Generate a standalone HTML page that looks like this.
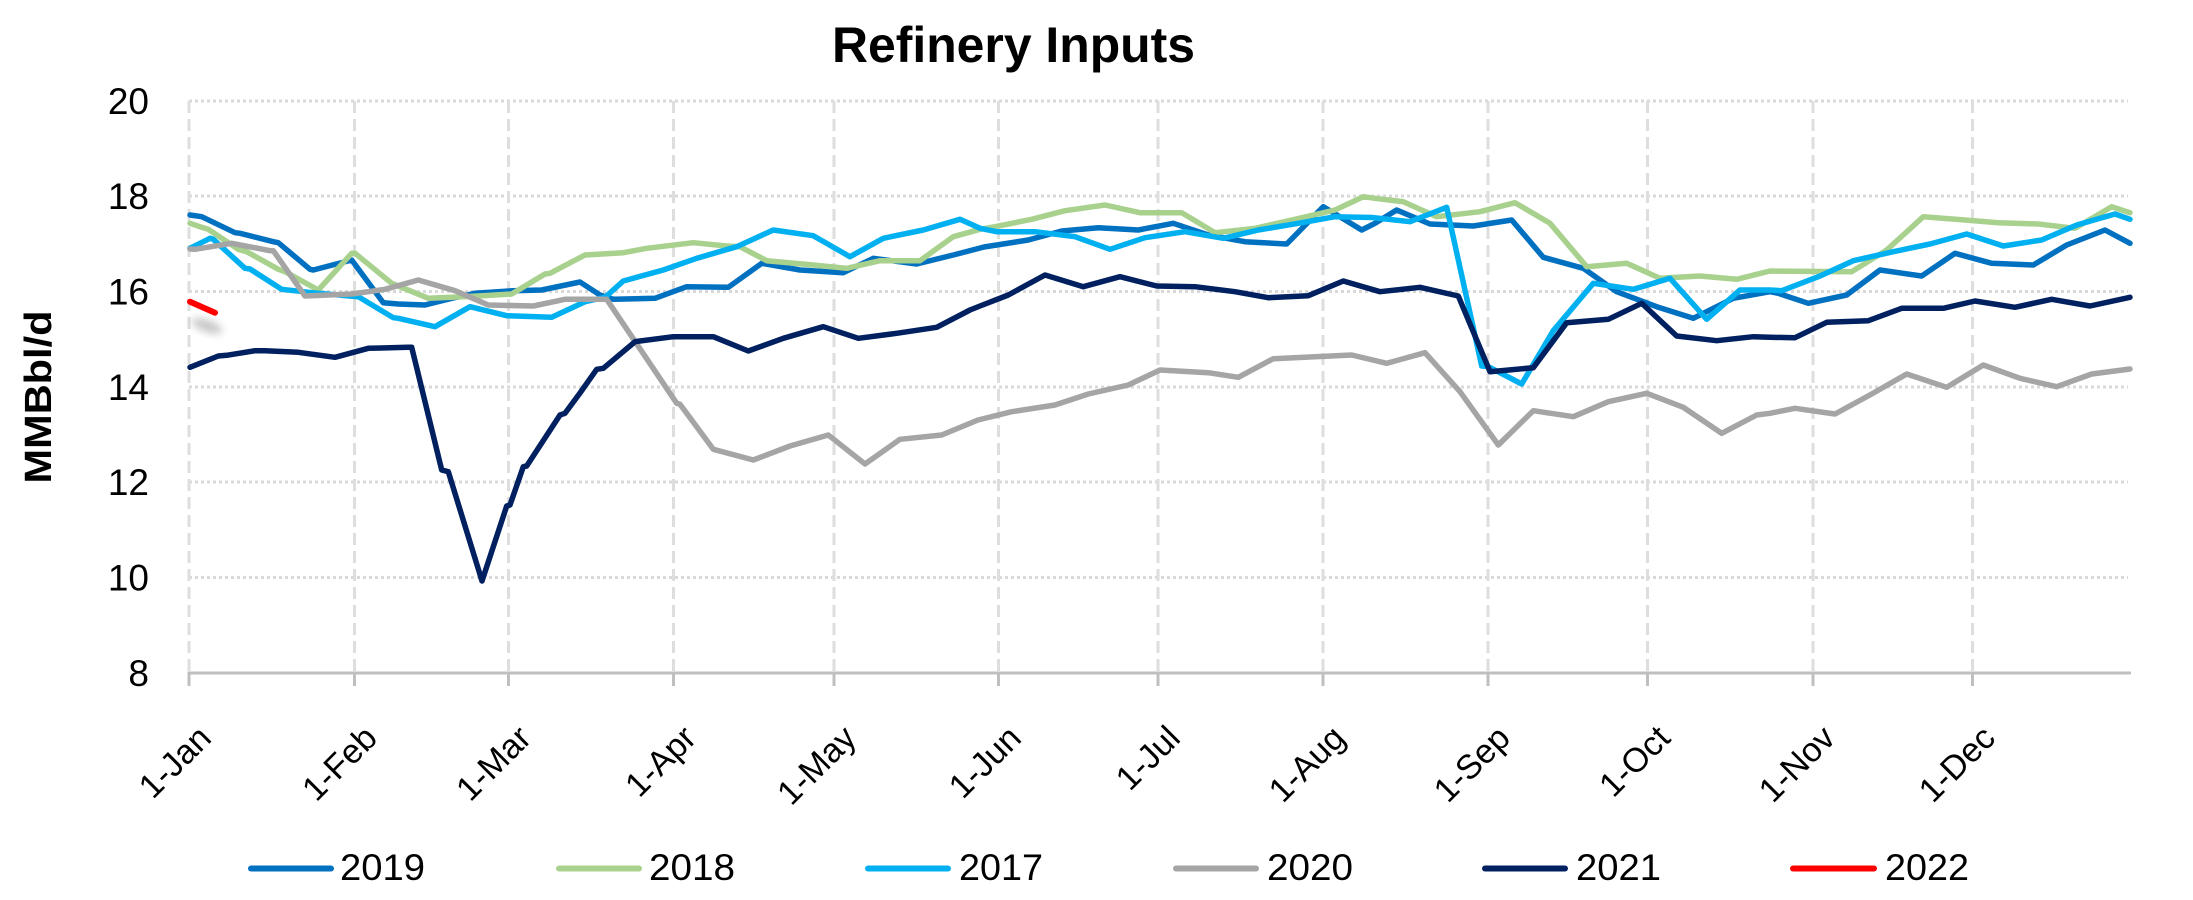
<!DOCTYPE html>
<html>
<head>
<meta charset="utf-8">
<style>
  html, body { margin:0; padding:0; background:#fff; }
  svg { display:block; }
  text { font-family: "Liberation Sans", "DejaVu Sans", sans-serif; fill:#000; }
</style>
</head>
<body>
<svg width="2193" height="900" viewBox="0 0 2193 900" xmlns="http://www.w3.org/2000/svg">
  <defs>
    <filter id="blur" x="-50%" y="-50%" width="200%" height="200%">
      <feGaussianBlur stdDeviation="4"/>
    </filter>
  </defs>
  <rect width="2193" height="900" fill="#fff"/>

  <!-- Title -->
  <text x="832" y="62" font-size="50" font-weight="bold" textLength="363" lengthAdjust="spacingAndGlyphs">Refinery Inputs</text>

  <!-- Horizontal dotted gridlines -->
  <g stroke="#D9D9D9" stroke-width="3" stroke-dasharray="3,3" fill="none">
    <line x1="189" y1="101" x2="2128" y2="101"/>
    <line x1="189" y1="196" x2="2128" y2="196"/>
    <line x1="189" y1="291.5" x2="2128" y2="291.5"/>
    <line x1="189" y1="387" x2="2128" y2="387"/>
    <line x1="189" y1="482" x2="2128" y2="482"/>
    <line x1="189" y1="577.5" x2="2128" y2="577.5"/>
  </g>

  <!-- Vertical dashed gridlines -->
  <g stroke="#DEDEDE" stroke-width="3" stroke-dasharray="12,6" fill="none">
    <line x1="189" y1="101" x2="189" y2="672"/>
    <line x1="354.5" y1="101" x2="354.5" y2="672"/>
    <line x1="508.5" y1="101" x2="508.5" y2="672"/>
    <line x1="673.5" y1="101" x2="673.5" y2="672"/>
    <line x1="834" y1="101" x2="834" y2="672"/>
    <line x1="998.5" y1="101" x2="998.5" y2="672"/>
    <line x1="1158" y1="101" x2="1158" y2="672"/>
    <line x1="1323" y1="101" x2="1323" y2="672"/>
    <line x1="1488" y1="101" x2="1488" y2="672"/>
    <line x1="1647.5" y1="101" x2="1647.5" y2="672"/>
    <line x1="1813" y1="101" x2="1813" y2="672"/>
    <line x1="1972.5" y1="101" x2="1972.5" y2="672"/>
  </g>

  <!-- X axis line and ticks -->
  <g stroke="#BFBFBF" stroke-width="3" fill="none">
    <line x1="187.5" y1="673" x2="2131" y2="673"/>
    <line x1="189" y1="673" x2="189" y2="686"/>
    <line x1="354.5" y1="673" x2="354.5" y2="686"/>
    <line x1="508.5" y1="673" x2="508.5" y2="686"/>
    <line x1="673.5" y1="673" x2="673.5" y2="686"/>
    <line x1="834" y1="673" x2="834" y2="686"/>
    <line x1="998.5" y1="673" x2="998.5" y2="686"/>
    <line x1="1158" y1="673" x2="1158" y2="686"/>
    <line x1="1323" y1="673" x2="1323" y2="686"/>
    <line x1="1488" y1="673" x2="1488" y2="686"/>
    <line x1="1647.5" y1="673" x2="1647.5" y2="686"/>
    <line x1="1813" y1="673" x2="1813" y2="686"/>
    <line x1="1972.5" y1="673" x2="1972.5" y2="686"/>
  </g>

  <!-- Y tick labels -->
  <g font-size="37" text-anchor="end">
    <text x="149" y="114">20</text>
    <text x="149" y="209">18</text>
    <text x="149" y="304.5">16</text>
    <text x="149" y="400">14</text>
    <text x="149" y="495">12</text>
    <text x="149" y="590.5">10</text>
    <text x="149" y="686">8</text>
  </g>

  <!-- Y axis title -->
  <text transform="translate(51,397) rotate(-90)" font-size="38" font-weight="bold" text-anchor="middle" textLength="173" lengthAdjust="spacingAndGlyphs">MMBbl/d</text>

  <!-- X tick labels -->
  <g font-size="34" text-anchor="end">
    <text transform="translate(213,740) rotate(-45)">1-Jan</text>
    <text transform="translate(379,740) rotate(-45)">1-Feb</text>
    <text transform="translate(533,740) rotate(-45)">1-Mar</text>
    <text transform="translate(698,740) rotate(-45)">1-Apr</text>
    <text transform="translate(858,740) rotate(-45)">1-May</text>
    <text transform="translate(1023,740) rotate(-45)">1-Jun</text>
    <text transform="translate(1182,740) rotate(-45)">1-Jul</text>
    <text transform="translate(1347,740) rotate(-45)">1-Aug</text>
    <text transform="translate(1512,740) rotate(-45)">1-Sep</text>
    <text transform="translate(1672,740) rotate(-45)">1-Oct</text>
    <text transform="translate(1837,740) rotate(-45)">1-Nov</text>
    <text transform="translate(1997,740) rotate(-45)">1-Dec</text>
  </g>

  <!-- Series -->
  <g fill="none" stroke-width="5.5" stroke-linejoin="round" stroke-linecap="round">
    <!-- 2019 -->
    <polyline stroke="#0070C0" points="190,215 201.7,216.7 235,232.7 240,233.3 273.3,241.7 278.3,242.7 310,269.3 313.3,270 351.7,260 383.3,302.7 398.3,304 425,305 451.7,298.3 475,293.3 513.3,290.7 541.7,290 580,282 600,295 613.3,299.3 655,298.3 686.7,286.7 728.3,287.3 761.7,263.3 800,270 843.3,272.7 873.3,258.3 916.7,264 953.3,255 984,247 1028.3,240 1061.7,231 1098.3,227.7 1138.3,230 1173.3,223.3 1208.3,235 1245,241.7 1286.7,244 1323.3,206.7 1361.7,230 1375,223.3 1396.7,210 1430,224 1473.3,226 1511.7,220 1543.3,257.3 1583.3,268.3 1616.7,291.7 1656.7,306.7 1693.3,318.3 1733.3,298.3 1770,291.7 1778.3,293.3 1808.3,303.3 1846.7,295 1880,270 1921.7,276 1955,253.3 1991.7,263.3 2033.3,265 2066.7,245 2105,230 2130,243.3"/>
    <!-- 2018 -->
    <polyline stroke="#A9D18E" points="190,223.3 201.7,227.3 208.3,229.3 238.3,249.3 246.7,251.7 278.3,269.3 285,271.7 318.3,290 351.7,253.3 355,253.3 391.7,283.3 428.3,298.3 451.7,297.3 478.3,296 511.7,294 545,274 550,273.3 585,255 623.3,252.7 646.7,248.3 693.3,242.7 726.7,246 740,246.7 766.7,260.7 813.3,265 846.7,268.3 880,260.7 920,260.7 953.3,236.7 980,229.3 995,226.7 1031.7,219.3 1065,210.7 1105,205 1140,212.7 1181.7,212.7 1215,232.7 1255,228.3 1291.7,220 1335,210 1363.3,196.7 1375,198.3 1403.3,201.7 1436.7,216.7 1480,211.7 1515,202.7 1550,223.3 1586.7,266.7 1626.7,263.3 1660,278.3 1700,276 1736.7,279.3 1770,271 1851.7,271.7 1886.7,250 1923.3,216.7 1965,220 1998.3,222.7 2038.3,224 2075,228.3 2111.7,206.7 2130,212.7"/>
    <!-- 2017 -->
    <polyline stroke="#00B0F0" points="190,248.3 210,238.3 213.3,239.3 245,268.3 250,269 281.7,289.3 318.3,293.3 358.3,296.7 393.3,317.7 398.3,318.3 435,326.7 470,306.7 506.7,315.7 551.7,317.3 585,301.7 605,297.3 623.3,281 663.3,270 696.7,258.3 736.7,246.7 773.3,230 813.3,235.7 850,256.7 883.3,238.3 923.3,230 960,219.3 980,228.3 996.7,231.7 1035,231.7 1075,236.7 1110,249.3 1145,237.7 1185,231.7 1223.3,238.3 1258.3,230 1298.3,223.3 1335,216.7 1372,217.5 1410,221.7 1446.7,207.3 1481.7,366 1488.3,366.7 1521.7,384 1553.3,330.7 1593.3,283.3 1633.3,289.3 1670,278.3 1706.7,319.3 1740,290 1770,290 1781.7,290.7 1818.3,276.7 1853.3,260.7 1893.3,251.7 1930,244 1966.7,234 2003.3,246 2041.7,240 2076.7,225 2115,214 2130,219.3"/>
    <!-- 2020 -->
    <polyline stroke="#A5A5A5" points="190,249 195,249.3 231.7,243.3 270,250.7 273.3,250.7 305,296 351.7,294 385,289.3 418.3,280 455,290.7 488.3,305 533.3,306 565,299.3 585,299.3 606.7,299.3 676.7,403.3 680,404.3 713.3,449.3 753.3,460 790,446 828.3,435 865,464 900,439.3 941.7,435 978,420 1011.7,411.7 1055,405 1088.3,394 1128.3,385 1160,370 1208.3,372.7 1238.3,377.3 1273.3,358.7 1315,356.7 1351.7,355 1386.7,363.3 1425,352.7 1460,391.7 1498.3,445 1533.3,410.7 1573.3,416.7 1608.3,401.7 1646.7,393.3 1683.3,407.3 1721.7,433.3 1756.7,415 1770,413.3 1795,408.3 1835,414 1871.7,394 1906.7,374 1946.7,387.3 1983.3,365 2020,378.3 2056.7,386.7 2091.7,374 2130,369"/>
    <!-- 2021 -->
    <polyline stroke="#002060" points="190,367.3 218.3,356 226.7,355.3 255,350.7 265,350.7 298.3,352.3 335,357.3 368.3,348.3 408.3,347.3 411.7,347.3 441.7,470 448.3,471.7 482,581 506.7,506 510,505 523.3,466.7 526.7,466 560,415 565,413.3 580,393 596.7,369.3 603.3,368.3 635,341.7 673.3,336.7 713.3,336.7 748.3,351 783.3,338.3 823.3,326.7 858.3,338.3 896.7,333.3 936.7,327.3 970,310 980,306 1008.3,295 1045,275 1083.3,286.7 1120,276.7 1156.7,286 1195,286.7 1235,291.7 1268.3,297.7 1308.3,295.7 1343.3,281 1380,291.7 1420,287.3 1458.3,296 1490,371.7 1533.3,367.7 1566.7,322.7 1608.3,319.3 1641.7,303.3 1676.7,336 1716.7,340.7 1753.3,336.7 1770,337.3 1795,337.7 1826.7,322.3 1868.3,320.7 1901.7,308.3 1943.3,308.3 1975,301 2015,307.3 2051.7,299.3 2090,306 2130,297.3"/>
  </g>

  <!-- 2022 with soft shadow -->
  <ellipse cx="207" cy="326" rx="16" ry="6" fill="#9a9a9a" opacity="0.55" filter="url(#blur)" transform="rotate(20 207 326)"/>
  <line x1="190" y1="301.7" x2="215" y2="312.7" stroke="#FF0000" stroke-width="6" stroke-linecap="round"/>

  <!-- Legend -->
  <g stroke-width="6" stroke-linecap="round">
    <line x1="251" y1="868.5" x2="331" y2="868.5" stroke="#0070C0"/>
    <line x1="559" y1="868.5" x2="639" y2="868.5" stroke="#A9D18E"/>
    <line x1="868" y1="868.5" x2="948" y2="868.5" stroke="#00B0F0"/>
    <line x1="1176" y1="868.5" x2="1256" y2="868.5" stroke="#A5A5A5"/>
    <line x1="1485" y1="868.5" x2="1565" y2="868.5" stroke="#002060"/>
    <line x1="1793" y1="868.5" x2="1874" y2="868.5" stroke="#FF0000"/>
  </g>
  <g font-size="37">
    <text x="340" y="880" textLength="85" lengthAdjust="spacingAndGlyphs">2019</text>
    <text x="649" y="880" textLength="86" lengthAdjust="spacingAndGlyphs">2018</text>
    <text x="959" y="880" textLength="84" lengthAdjust="spacingAndGlyphs">2017</text>
    <text x="1267" y="880" textLength="86" lengthAdjust="spacingAndGlyphs">2020</text>
    <text x="1576" y="880" textLength="85" lengthAdjust="spacingAndGlyphs">2021</text>
    <text x="1885" y="880" textLength="84" lengthAdjust="spacingAndGlyphs">2022</text>
  </g>
</svg>
</body>
</html>
